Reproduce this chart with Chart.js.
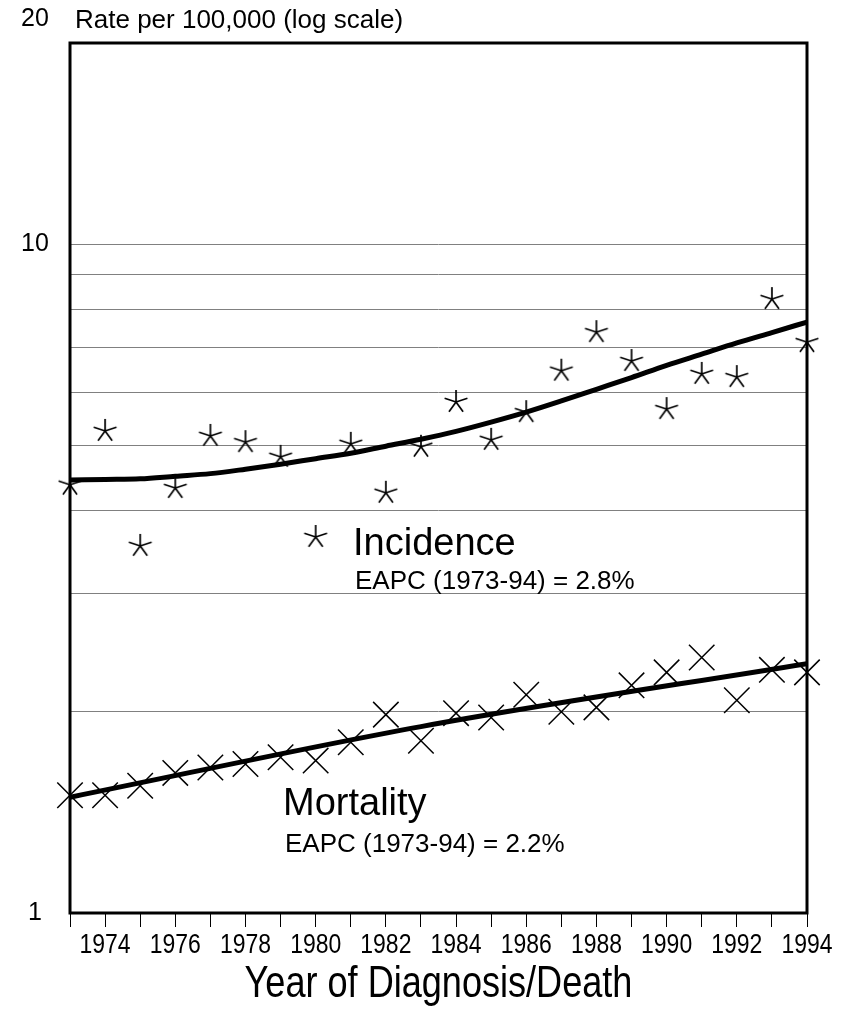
<!DOCTYPE html>
<html lang="en">

<head>
    <meta charset="UTF-8">
    <title>Incidence and Mortality, 1973-94</title>
    <script src="https://cdn.jsdelivr.net/npm/chart.js"></script>
    <style>
        body {
            margin: 0;
            background-color: #ffffff;
        }

        #rateChart {
            display: block;
        }
    </style>
</head>

<body>
    <canvas id="rateChart" width="846" height="1026"></canvas>

    <script>
        const years = [1973, 1974, 1975, 1976, 1977, 1978, 1979, 1980, 1981, 1982, 1983,
            1984, 1985, 1986, 1987, 1988, 1989, 1990, 1991, 1992, 1993, 1994];

        // observed rates per 100,000
        const incidence = [4.37, 5.26, 3.54, 4.32, 5.17, 5.06, 4.81, 3.65, 5.03, 4.25, 4.98,
            5.81, 5.10, 5.61, 6.47, 7.39, 6.69, 5.67, 6.40, 6.33, 8.28, 7.14];
        const mortality = [1.50, 1.50, 1.55, 1.62, 1.65, 1.67, 1.71, 1.69, 1.80, 1.98, 1.81,
            1.99, 1.96, 2.12, 2.00, 2.03, 2.19, 2.29, 2.41, 2.08, 2.31, 2.29];

        // fitted trend lines
        const incidenceFit = [4.44, 4.45, 4.46, 4.50, 4.54, 4.61, 4.69, 4.78, 4.87, 4.99, 5.11,
            5.25, 5.42, 5.61, 5.83, 6.07, 6.32, 6.59, 6.85, 7.12, 7.38, 7.65];
        const mortalityFitYears = [1973, 1983, 1994];
        const mortalityFit = [1.49, 1.90, 2.36];

        const yTicks = [1, 2, 3, 4, 5, 6, 7, 8, 9, 10, 20];
        const yLabels = [1, 10, 20];
        const gridValues = [2, 3, 4, 5, 6, 7, 8, 9, 10];
        const xLabels = [1974, 1976, 1978, 1980, 1982, 1984, 1986, 1988, 1990, 1992, 1994];

        const FONT = "'Liberation Sans', Arial, sans-serif";
        const SQUEEZE = 0.82; // no narrow face installed, squeeze the regular one

        function pairs(xs, ys) {
            return xs.map((x, i) => ({ x: x, y: ys[i] }));
        }

        // five-armed asterisk marker like the original
        function makeAsterisk(size, lw) {
            const c = document.createElement('canvas');
            c.width = size;
            c.height = size;
            const g = c.getContext('2d');
            const r = size / 2 - 1;
            g.strokeStyle = '#000';
            g.lineWidth = lw;
            g.beginPath();
            for (let k = 0; k < 5; k++) {
                const a = -Math.PI / 2 + k * 2 * Math.PI / 5;
                g.moveTo(size / 2, size / 2);
                g.lineTo(size / 2 + r * Math.cos(a), size / 2 + r * Math.sin(a));
            }
            g.stroke();
            return c;
        }
        const asterisk = makeAsterisk(26, 1.7);

        function narrowText(ctx, text, x, y) {
            ctx.save();
            ctx.translate(x, y);
            ctx.scale(SQUEEZE, 1);
            ctx.fillText(text, 0, 0);
            ctx.restore();
        }

        const textPlugin = {
            id: 'textPlugin',
            afterDraw(chart) {
                const ctx = chart.ctx;
                const area = chart.chartArea;
                const x = chart.scales.x;
                const y = chart.scales.y;
                ctx.save();

                // frame
                ctx.strokeStyle = '#000';
                ctx.lineWidth = 3;
                ctx.strokeRect(area.left, area.top, area.right - area.left, area.bottom - area.top);

                ctx.fillStyle = '#000';
                ctx.textBaseline = 'middle';

                // y labels, 20 sits above the frame
                ctx.font = '25px ' + FONT;
                ctx.textAlign = 'center';
                yLabels.forEach(v => {
                    let py = y.getPixelForValue(v);
                    if (v === 20) py -= 24;
                    ctx.fillText(String(v), 35, py);
                });

                // x labels and title in a condensed face
                ctx.font = '28px ' + FONT;
                xLabels.forEach(v => narrowText(ctx, String(v), x.getPixelForValue(v), area.bottom + 32));
                ctx.font = '44px ' + FONT;
                narrowText(ctx, 'Year of Diagnosis/Death', (area.left + area.right) / 2, 985);

                ctx.textAlign = 'left';
                ctx.font = '26px ' + FONT;
                ctx.fillText('Rate per 100,000 (log scale)', 75, 21);

                ctx.font = '38px ' + FONT;
                ctx.fillText('Incidence', 353, 545);
                ctx.fillText('Mortality', 283, 805);
                ctx.font = '26px ' + FONT;
                ctx.fillText('EAPC (1973-94) = 2.8%', 355, 582);
                ctx.fillText('EAPC (1973-94) = 2.2%', 285, 845);
                ctx.restore();
            }
        };

        new Chart(document.getElementById('rateChart').getContext('2d'), {
            type: 'scatter',
            data: {
                datasets: [{
                    label: 'Incidence',
                    data: pairs(years, incidence),
                    pointStyle: asterisk,
                    pointRadius: 12,
                    clip: false
                }, {
                    label: 'Mortality',
                    data: pairs(years, mortality),
                    pointStyle: 'crossRot',
                    pointRadius: 18,
                    borderColor: '#000',
                    borderWidth: 1.5,
                    clip: false
                }, {
                    label: 'Incidence trend',
                    data: pairs(years, incidenceFit),
                    showLine: true,
                    pointRadius: 0,
                    borderColor: '#000',
                    borderWidth: 5,
                    cubicInterpolationMode: 'monotone'
                }, {
                    label: 'Mortality trend',
                    data: pairs(mortalityFitYears, mortalityFit),
                    showLine: true,
                    pointRadius: 0,
                    borderColor: '#000',
                    borderWidth: 5,
                    cubicInterpolationMode: 'monotone'
                }]
            },
            options: {
                responsive: false,
                animation: false,
                layout: {
                    padding: { top: 43, right: 39, left: 0, bottom: 0 }
                },
                plugins: {
                    legend: { display: false },
                    tooltip: { enabled: false }
                },
                scales: {
                    x: {
                        type: 'linear',
                        min: 1973,
                        max: 1994,
                        afterBuildTicks: scale => {
                            scale.ticks = years.map(v => ({ value: v }));
                        },
                        afterFit: scale => {
                            scale.height = 113;
                        },
                        border: { display: false },
                        grid: {
                            drawOnChartArea: false,
                            drawTicks: true,
                            tickLength: 14,
                            color: '#000',
                            lineWidth: 1
                        },
                        ticks: { display: false }
                    },
                    y: {
                        type: 'logarithmic',
                        min: 1,
                        max: 20,
                        afterBuildTicks: scale => {
                            scale.ticks = yTicks.map(v => ({ value: v }));
                        },
                        afterFit: scale => {
                            scale.width = 70;
                        },
                        border: { display: false },
                        grid: {
                            drawTicks: false,
                            lineWidth: 1,
                            color: c => (gridValues.includes(c.tick.value) ? '#808080' : 'rgba(0,0,0,0)')
                        },
                        ticks: { display: false }
                    }
                }
            },
            plugins: [textPlugin]
        });
    </script>
</body>

</html>
